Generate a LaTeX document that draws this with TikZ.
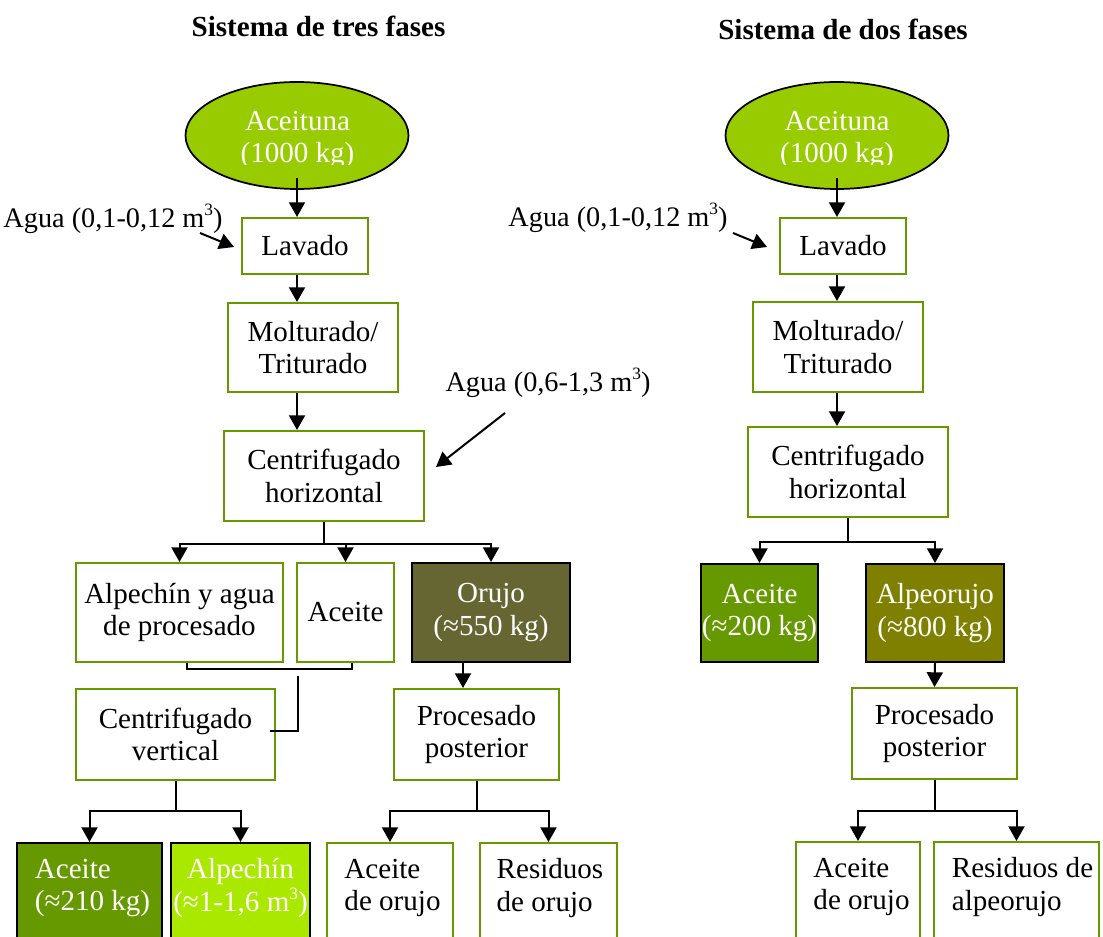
\documentclass[tikz,border=0pt]{standalone}
\usepackage{fontspec}
\setmainfont{Liberation Serif}
\usetikzlibrary{arrows.meta,shapes.geometric,calc}

\definecolor{boxline}{RGB}{102,153,0}
\definecolor{olivefill}{RGB}{153,204,0}
\definecolor{oilgreen}{RGB}{102,153,0}
\definecolor{limefill}{RGB}{170,232,0}
\definecolor{orujofill}{RGB}{102,102,51}
\definecolor{alpeorujofill}{RGB}{128,128,0}

% small raised "3" for cubic metres
\newcommand{\cubed}{\raisebox{0.42em}{\fontsize{13}{13}\selectfont 3}}

\begin{document}
\begin{tikzpicture}[x=0.75pt,y=-0.75pt,
  every node/.style={font=\fontsize{21.8}{24.6}\selectfont, inner sep=0pt},
  box/.style 2 args={draw=boxline, line width=1.5pt, fill=white, align=center,
    minimum width=#1*0.75pt, minimum height=#2*0.75pt},
  cbox/.style n args={3}{draw=black, line width=1.5pt, fill=#3, text=white, align=center,
    minimum width=#1*0.75pt, minimum height=#2*0.75pt},
  oval/.style={ellipse, draw=black, line width=1.3pt, fill=olivefill,
    minimum width=223*0.75pt, minimum height=107*0.75pt},
  wtext/.style={text=white, align=center},
  water/.style={font=\fontsize{21.2}{24}\selectfont},
  title/.style={font=\fontsize{21.8}{24}\selectfont\bfseries},
  ln/.style={line width=1.5pt},
  arr/.style={ln, -{Triangle[length=11pt,width=12pt]}}]

\useasboundingbox (0,0) rectangle (1103,937);
\clip (0,0) rectangle (1103,937);

% ---------- titles ----------
\node[title] (t1) at (318.5,26) {Sistema de tres fases};
\node[title] (t2) at (843,29) {Sistema de dos fases};

% ---------- three-phase system ----------
\coordinate (ax1) at (297,0);
\node[oval] (e1) at (297,135.5) {};
\begin{scope}
  \clip (180,80) rectangle (415,165);
  \node[wtext] (e1t) at (297.5,140) {Aceituna\\(1000 kg)};
\end{scope}
\node[box={126}{56}] (l1) at (305,246) {Lavado};
\node[box={170}{89}] (m1) at (313,347.5) {Molturado/\\Triturado};
\node[box={200}{90}] (c1) at (324,476) {Centrifugado\\horizontal};
\node[box={207}{99}] (ap) at (179.5,612.5) {Alpechín y agua\\de procesado};
\node[box={97}{99}] (ac) at (345.5,612.5) {Aceite};
\node[cbox={158}{99}{orujofill}] (or) at (491,612.5) {Orujo\\(≈550 kg)};
\node[box={199}{91}] (cv) at (175.5,734.5) {Centrifugado\\vertical};
\node[box={165}{91}] (pp1) at (476.5,734.5) {Procesado\\posterior};

% bottom row (runs past the lower edge)
\node[cbox={145}{110}{oilgreen}, anchor=north] (b1) at (89.5,842) {};
\node[cbox={139}{110}{limefill}, anchor=north] (b2) at (240.5,842) {};
\node[box={126}{110}, anchor=north] (b3) at (390,842) {};
\node[box={137}{110}, anchor=north] (b4) at (548.5,842) {};
\node[wtext, align=left] (b1t) at (92.5,888) {Aceite\\(≈210 kg)};
\node[wtext] (b2t) at (240.5,888) {Alpechín\\(≈1-1,6 m\cubed)};
\node[align=left] (b3t) at (392.5,888) {Aceite\\de orujo};
\node[align=left] (b4t) at (550,888) {Residuos\\de orujo};

% water inputs
\node[water] (w1) at (113,219) {Agua (0,1-0,12 m\cubed)};
\node[water] (w2) at (548,383) {Agua (0,6-1,3 m\cubed)};
\coordinate (w1s) at (200,233);
\coordinate (w1e) at (234,247);
\coordinate (w2s) at (505,413);
\coordinate (w2e) at (436,467);
\draw[arr] (w1s) -- (w1e);
\draw[arr] (w2s) -- (w2e);

% main line
\draw[arr] ([yshift=9pt]e1.south) -- (l1.north -| ax1);
\draw[arr] (l1.south -| ax1) -- (m1.north -| ax1);
\draw[arr] (m1.south -| ax1) -- (c1.north -| ax1);

% split after horizontal centrifuge
\draw[arr] (c1.south) -- ++(0,22) -| (ap.north);
\draw[arr] (c1.south) -- ++(0,22) -| (ac.north);
\draw[arr] (c1.south) -- ++(0,22) -| (or.north);

% liquid phases joined and sent to vertical centrifuge
\draw[ln] ($(ap.south)+(7.5,0)$) -- ++(0,6) -| ($(ac.south)+(6.5,0)$);
\coordinate (mj) at (298,676);
\draw[ln] (mj) |- ([xshift=-4.5pt,yshift=2.6pt]cv.east);

% pomace branch
\coordinate (ax3) at (463,0);
\draw[arr] (or.south -| ax3) -- (pp1.north -| ax3);

% outputs
\draw[arr] (cv.south) -- ++(0,30) -| (b1.north);
\draw[arr] (cv.south) -- ++(0,30) -| (b2.north);
\draw[arr] (pp1.south) -- ++(0,30) -| (b3.north);
\draw[arr] (pp1.south) -- ++(0,30) -| (b4.north);

% ---------- two-phase system ----------
\coordinate (ax2) at (837,0);
\node[oval] (e2) at (837,135.5) {};
\begin{scope}
  \clip (720,80) rectangle (955,165);
  \node[wtext] (e2t) at (837,140) {Aceituna\\(1000 kg)};
\end{scope}
\node[box={126}{56}] (l2) at (843,246) {Lavado};
\node[box={170}{90}] (m2) at (838,347) {Molturado/\\Triturado};
\node[box={200}{90}] (c2) at (848,472) {Centrifugado\\horizontal};
\node[cbox={117}{98}{oilgreen}] (r1) at (759.5,613) {Aceite\\(≈200 kg)};
\node[cbox={138}{98}{alpeorujofill}] (r2) at (935,613) {Alpeorujo\\(≈800 kg)};
\node[box={165}{91}] (pp2) at (934.5,733.5) {Procesado\\posterior};
\node[box={124}{110}, anchor=north] (r3) at (858,841) {};
\node[box={165}{110}, anchor=north] (r4) at (1016.5,841) {};
\node[align=left] (r3t) at (861.5,887) {Aceite\\de orujo};
\node[align=left] (r4t) at (1022.5,887) {Residuos de\\alpeorujo};

\node[water] (w3) at (618,218) {Agua (0,1-0,12 m\cubed)};
\coordinate (w3s) at (733,233);
\coordinate (w3e) at (767,247);
\draw[arr] (w3s) -- (w3e);

\draw[arr] ([yshift=9pt]e2.south) -- (l2.north -| ax2);
\draw[arr] (l2.south -| ax2) -- (m2.north -| ax2);
\draw[arr] (m2.south -| ax2) -- (c2.north -| ax2);

\draw[arr] (c2.south) -- ++(0,24) -| (r1.north);
\draw[arr] (c2.south) -- ++(0,24) -| (r2.north);
\draw[arr] (r2.south) -- (pp2.north);
\draw[arr] (pp2.south) -- ++(0,31) -| (r3.north);
\draw[arr] (pp2.south) -- ++(0,31) -| (r4.north);

\end{tikzpicture}
\end{document}
